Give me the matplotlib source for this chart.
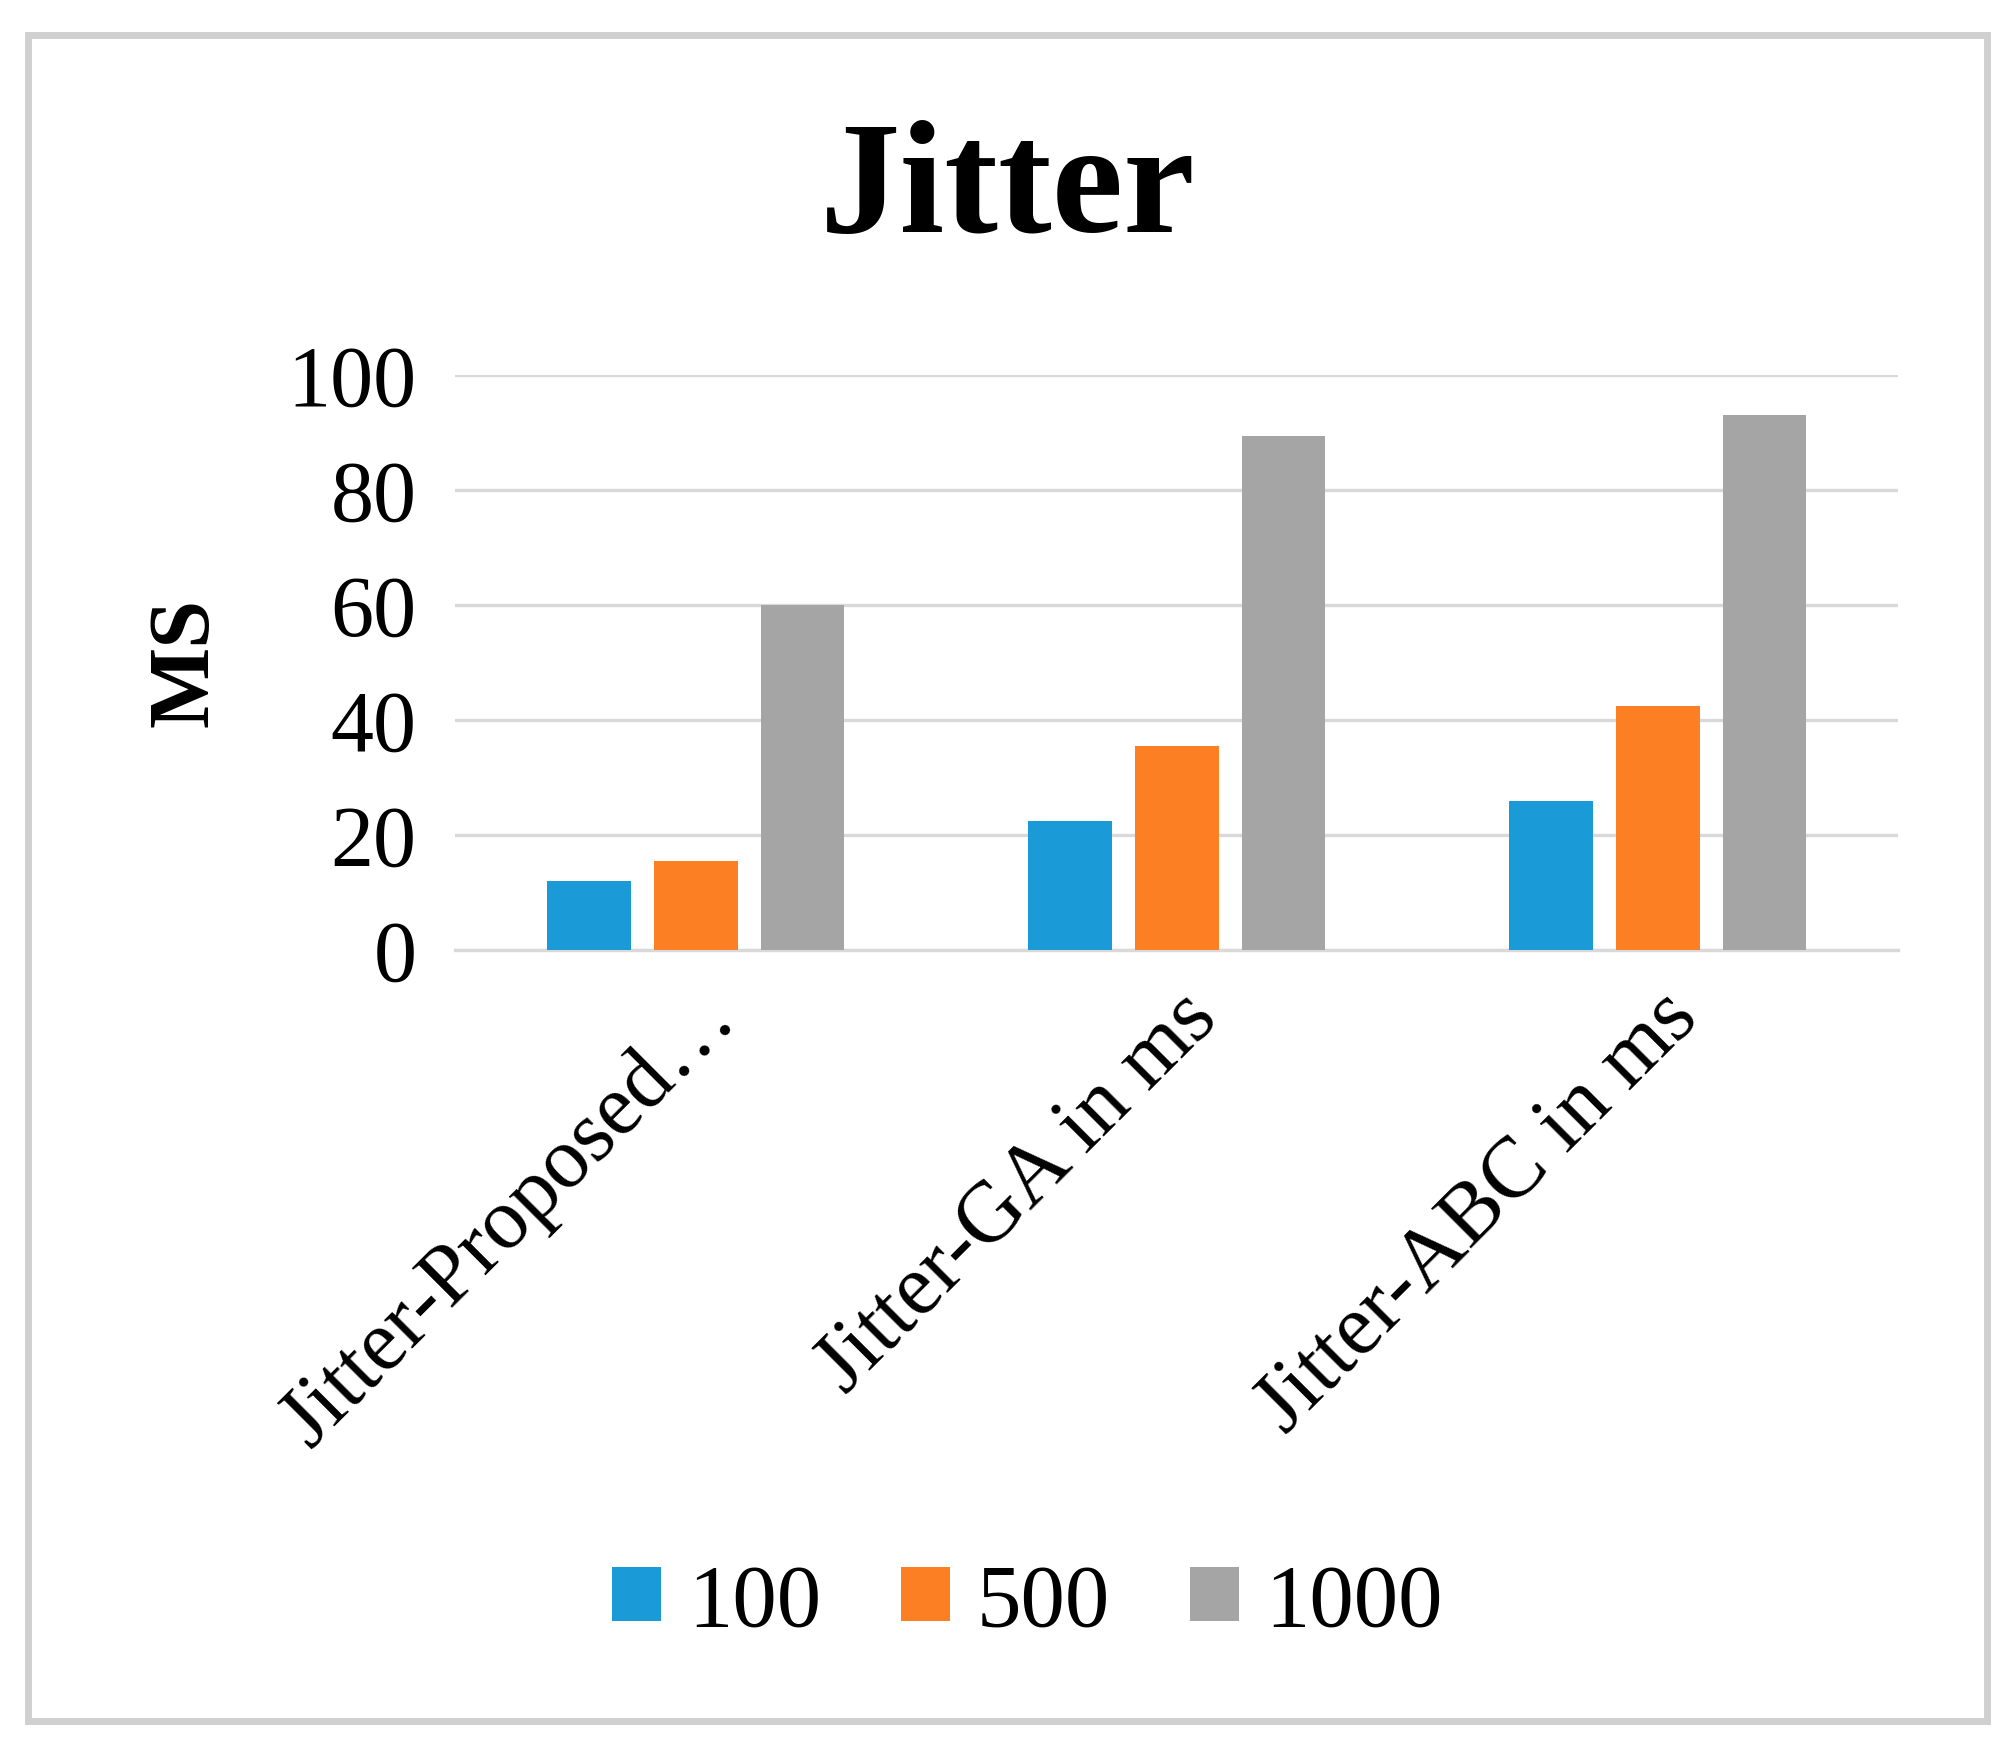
import matplotlib
matplotlib.use("Agg")
import matplotlib.pyplot as plt
import numpy as np
from matplotlib.patches import Rectangle

categories = ["Jitter-Proposed…", "Jitter-GA in ms", "Jitter-ABC in ms"]
series_names = ["100", "500", "1000"]
v100 = [12, 22.5, 26]
v500 = [15.5, 35.5, 42.5]
v1000 = [60, 89.5, 93]
colors = ["#1a9ad6", "#fd7f23", "#a5a5a5"]

plt.rcParams['font.family'] = ['Liberation Serif', 'DejaVu Serif']
fig = plt.figure(figsize=(10.075, 8.765), dpi=200)
fig.patches.append(Rectangle((0.014, 0.018), 0.972, 0.962, transform=fig.transFigure,
                             fill=False, edgecolor="#d0d0d0", linewidth=2.5))
ax = fig.add_axes([0.226, 0.458, 0.716, 0.328])
x = np.arange(len(categories))
w = 0.174
off = 0.222
for i, (vals, name) in enumerate(zip([v100, v500, v1000], series_names)):
    ax.bar(x + (i - 1) * off, vals, w, color=colors[i], label=name, zorder=3)
ax.set_ylim(0, 100)
ax.set_xlim(-0.5, 2.5)
ax.set_yticks(range(0, 101, 20))
ax.yaxis.grid(True, color="#d9d9d9", linewidth=1.2, zorder=0)
for s in ["top", "right", "left"]:
    ax.spines[s].set_visible(False)
ax.spines["bottom"].set_color("#d9d9d9")
ax.spines["bottom"].set_linewidth(1.2)
ax.tick_params(axis="y", length=0, labelsize=31, pad=14)
ax.tick_params(axis="x", length=0, labelsize=31, pad=10)
ax.set_xticks(x)
ax.set_xticklabels(categories, rotation=45, ha="right", rotation_mode="anchor")
ax.set_ylabel("MS", fontsize=31, fontweight="bold", labelpad=22)
fig.text(0.5, 0.89, "Jitter", ha="center", va="center", fontsize=58, fontweight="bold")
fig.legend(loc="center", bbox_to_anchor=(0.51, 0.085), ncol=3, frameon=False,
           fontsize=32, handlelength=0.55, handleheight=0.55, handletextpad=0.3, columnspacing=0.9)
fig.savefig("out.png", dpi=200)
